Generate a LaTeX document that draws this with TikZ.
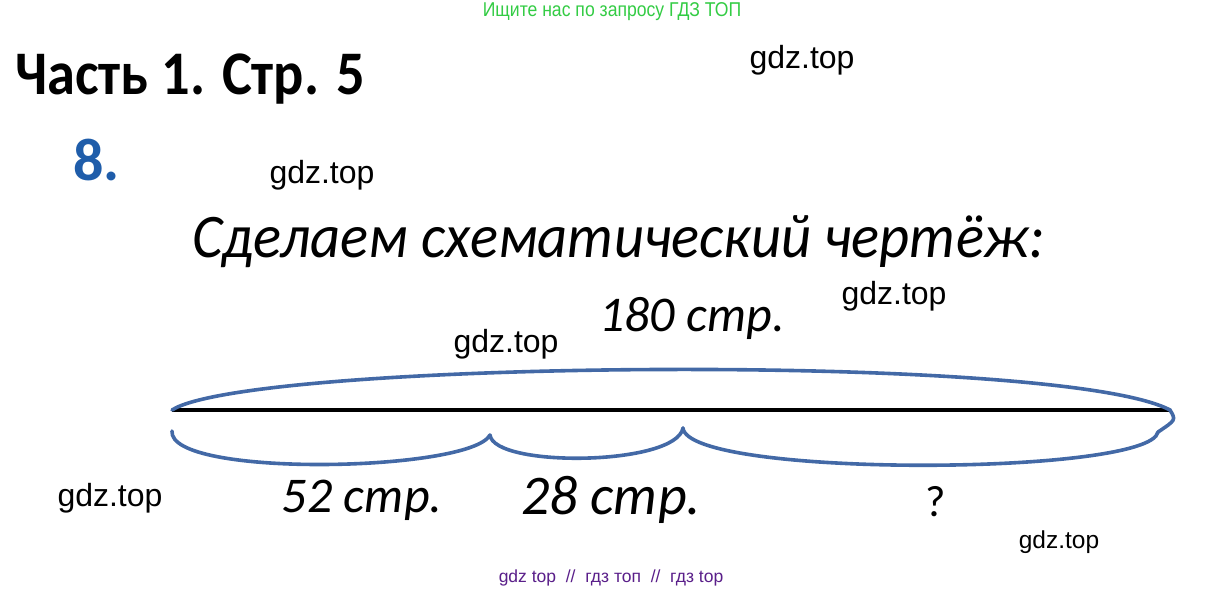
\documentclass[tikz,border=0pt]{standalone}
\usepackage{fontspec}
\setmainfont{Liberation Sans}
\newfontfamily\carlito{Carlito}
\newfontfamily\wmfont{Liberation Sans}
\definecolor{arcblue}{HTML}{4369A6}
\definecolor{numblue}{HTML}{1F5DAA}
\definecolor{wmgreen}{HTML}{33CC44}
\definecolor{wmpurple}{HTML}{5A1F8A}
\tikzset{
  wm/.style={font=\wmfont\fontsize{32}{35}\selectfont, inner sep=0pt},
  lbl/.style={font=\carlito\itshape\fontsize{50}{54}\selectfont, inner sep=0pt},
  arc/.style={draw=arcblue, line width=3.6pt, line cap=round},
}
\begin{document}
\begin{tikzpicture}[x=1pt,y=-1pt]
\useasboundingbox (0,0) rectangle (1225,593);
\fill[white] (0,0) rectangle (1225,593);
% header texts
\node[inner sep=0pt, text=wmgreen, font=\wmfont\fontsize{20}{22}\selectfont] (top) at (612,12) {\scalebox{0.88}[1]{Ищите нас по запросу ГДЗ ТОП}};
\node[inner sep=0pt, anchor=west, font=\carlito\bfseries\fontsize{62}{66}\selectfont] (title) at (15,79) {\scalebox{0.91}[1]{Часть 1. Стр. 5}};
\node[inner sep=0pt, anchor=west, text=numblue, font=\carlito\bfseries\fontsize{60}{64}\selectfont] (num) at (73,160) {8.};
\node[inner sep=0pt, anchor=west, font=\carlito\itshape\fontsize{62}{66}\selectfont] (head) at (192,242) {\scalebox{0.944}[1]{Сделаем схематический чертёж:}};
% watermarks
\node[wm] (w1) at (802,60) {gdz.top};
\node[wm] (w2) at (322,175) {gdz.top};
\node[wm] (w3) at (894,296) {gdz.top};
\node[wm] (w4) at (506,344) {gdz.top};
\node[wm] (w5) at (110,498) {gdz.top};
\node[wm, font=\wmfont\fontsize{24.5}{27}\selectfont] (w6) at (1059,542) {gdz.top};
\node[inner sep=0pt, text=wmpurple, font=\wmfont\fontsize{17.5}{20}\selectfont] (foot) at (611,578) {gdz top\ \ //\ \ гдз топ\ \ //\ \ гдз top};
% segment
\coordinate (A) at (172,410);
\coordinate (B) at (1170,410);
\coordinate (L0) at (172,431);
\coordinate (L1) at (490,435);
\coordinate (L2) at (683,428);
\coordinate (L3) at (1158,432);
\draw[line width=3.6pt] (A) -- (B);
\draw[arc] (A) .. controls (250,360) and (1060,352) .. (B) .. controls (1176,420) .. (L3);
\draw[arc] (L0) .. controls (168,478) and (470,472) .. (L1);
\draw[arc] (L1) .. controls (494,468) and (676,466) .. (L2);
\draw[arc] (L2) .. controls (688,478) and (1150,476) .. (L3);
% labels
\node[lbl] (total) at (692,318) {180 стр.};
\node[lbl] (s1) at (362,500) {52 стр.};
\node[lbl, font=\carlito\itshape\fontsize{56}{60}\selectfont] (s2) at (611,500) {28 стр.};
\node[lbl, font=\carlito\fontsize{44}{48}\selectfont] (q) at (936,502) {?};
\end{tikzpicture}
\end{document}
